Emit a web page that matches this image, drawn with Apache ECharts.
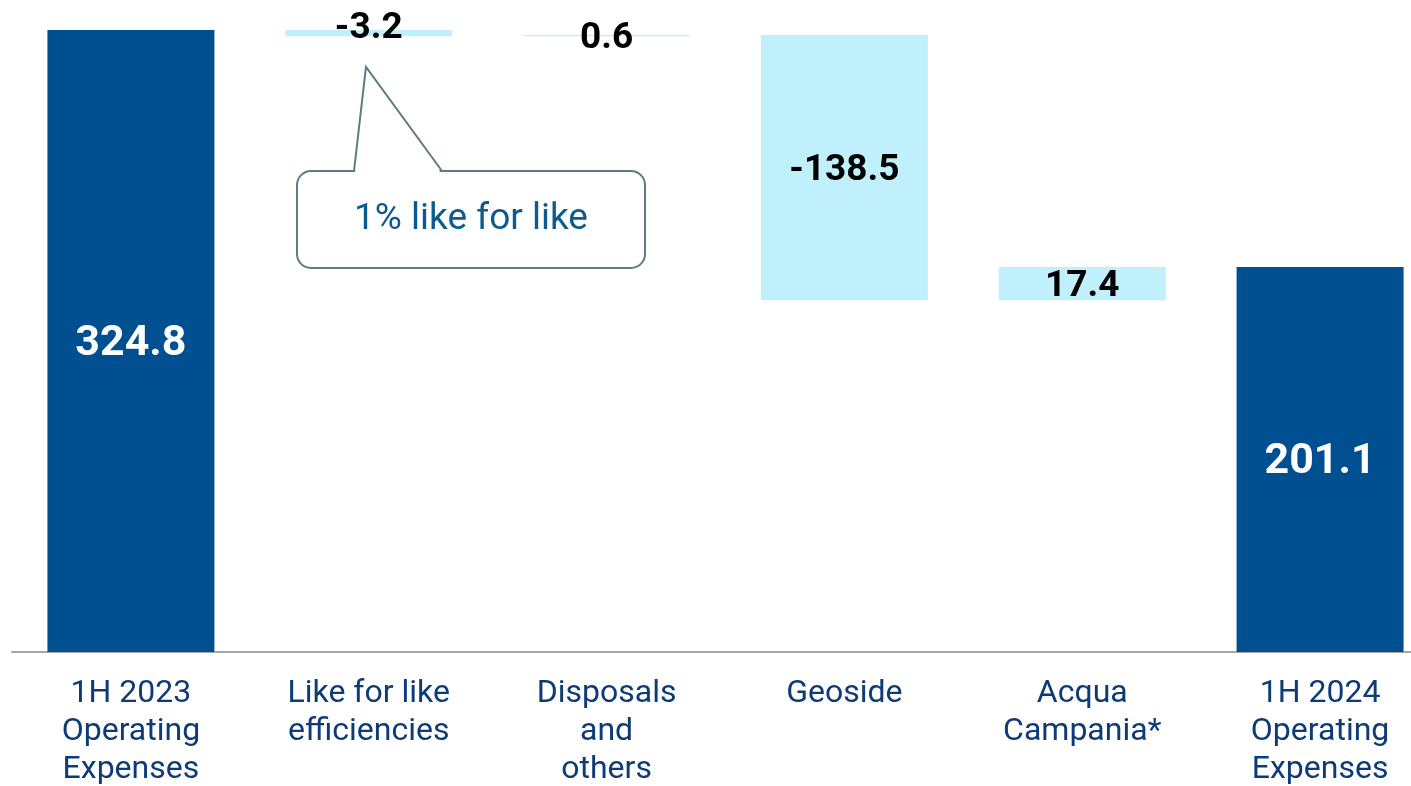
<!DOCTYPE html>
<html>
<head>
<meta charset="utf-8">
<script src="https://cdn.jsdelivr.net/npm/echarts@6/dist/echarts.min.js"></script>
<style>
  html, body { margin: 0; padding: 0; background: #ffffff; }
  #chart { width: 1411px; height: 786px; }
</style>
</head>
<body>
<div id="chart"></div>
<script>
// ── Data ────────────────────────────────────────────────────────────────────
var categories = [
  '1H 2023\nOperating\nExpenses',
  'Like for like\nefficiencies',
  'Disposals\nand\nothers',
  'Geoside',
  'Acqua\nCampania*',
  '1H 2024\nOperating\nExpenses'
];
var values = [324.8, -3.2, 0.6, -138.5, 17.4, 201.1];
var isTotal = [true, false, false, false, false, true];

// ── Colours ─────────────────────────────────────────────────────────────────
var C = {
  total: '#004f91',
  delta: '#bff0fb',
  axis:  '#a6a6a6',
  cat:   '#0d3a78',
  note:  '#5b7d83',
  noteText: '#0d5a8f'
};

// ── Waterfall: invisible base + visible step ────────────────────────────────
var base = [], step = [];
var running = 0;
values.forEach(function(v, i) {
  if (isTotal[i]) {
    base.push(0);
    step.push(v);
    running = v;
  } else {
    var next = running + v;
    base.push(Math.min(running, next));
    step.push(Math.abs(v));
    running = next;
  }
});

function fmt(v) { return v.toFixed(1); }

var stepData = step.map(function(h, i) {
  var d = {
    value: h,
    itemStyle: { color: isTotal[i] ? C.total : C.delta },
    label: {
      show: true,
      formatter: fmt(values[i]),
      color: isTotal[i] ? '#ffffff' : '#000000',
      fontSize: isTotal[i] ? 43 : 37,
      fontWeight: 'bold',
      position: 'inside',
      offset: [0, 3]
    }
  };
  // tiny steps: label sits across the bar
  if (i === 1) { d.label.position = 'top'; d.label.distance = -16; d.label.offset = [0, 1]; }
  if (i === 2) { d.label.position = 'top'; d.label.distance = -23; d.label.offset = [0, -1]; }
  return d;
});

var chart = echarts.init(document.getElementById('chart'), null, { renderer: 'canvas' });
chart.setOption({
  animation: false,
  backgroundColor: '#ffffff',
  textStyle: { fontFamily: 'Roboto, sans-serif' },
  grid: { left: 12, width: 1427, top: 30, bottom: 134, containLabel: false, outerBoundsMode: 'none' },
  xAxis: {
    type: 'category',
    data: categories,
    axisLine: { lineStyle: { color: C.axis, width: 2 } },
    axisTick: { show: false },
    axisLabel: {
      color: C.cat,
      fontSize: 32,
      lineHeight: 38,
      margin: 23,
      interval: 0,
      fontFamily: 'Roboto, sans-serif'
    }
  },
  yAxis: {
    type: 'value',
    min: 0,
    max: 324.8,
    show: false,
    splitLine: { show: false }
  },
  series: [{
    type: 'bar',
    stack: 'wf',
    data: base,
    itemStyle: { color: 'transparent' },
    barWidth: 167,
    silent: true
  }, {
    type: 'bar',
    stack: 'wf',
    data: stepData,
    barWidth: 167
  }],
  // callout bubble
  graphic: [{
    type: 'rect',
    shape: { x: 297, y: 171, width: 348, height: 97, r: 14 },
    style: { fill: '#ffffff', stroke: C.note, lineWidth: 2 },
    z: 100
  }, {
    type: 'polygon',
    shape: { points: [[355, 173], [366, 67], [441, 173]] },
    style: { fill: '#ffffff', stroke: null },
    z: 101
  }, {
    type: 'polyline',
    shape: { points: [[354, 171], [366, 67], [442, 171]] },
    style: { fill: null, stroke: C.note, lineWidth: 2 },
    z: 102
  }, {
    type: 'text',
    x: 471,
    y: 220,
    style: {
      text: '1% like for like',
      fill: C.noteText,
      fontSize: 37,
      fontFamily: 'Roboto, sans-serif',
      align: 'center',
      verticalAlign: 'middle'
    },
    z: 103
  }]
});
</script>
</body>
</html>
